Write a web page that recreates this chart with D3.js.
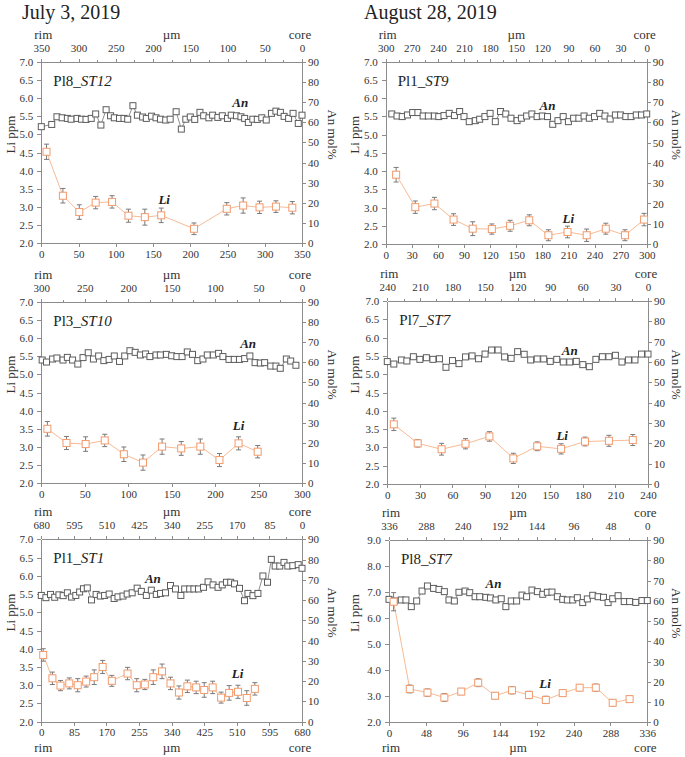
<!DOCTYPE html>
<meta charset="utf-8">
<style>
body { margin: 0; background: #fff; }
text { font-family: "Liberation Serif", "Times New Roman", serif; }
.axis path, .axis line { stroke: #8c8c8c; shape-rendering: crispEdges; }
.axis text { font-family: "Liberation Serif", serif; font-size: 11px; fill: #333; }
.lab { font-size: 13px; fill: #333; }
.title { font-size: 20px; fill: #222; }
.pname { font-size: 15px; fill: #222; }
.ser { font-size: 13px; font-weight: bold; font-style: italic; fill: #222; }
</style>
<body>
<script src="https://d3js.org/d3.v7.min.js"></script>
<script>

var titles = ["July 3, 2019", "August 28, 2019"];

// tick labels
var dist1 = [0, 50, 100, 150, 200, 250, 300, 350];
var dist2 = [0, 30, 60, 90, 120, 150, 180, 210, 240, 270, 300];
var dist3 = [0, 50, 100, 150, 200, 250, 300];
var dist4 = [0, 30, 60, 90, 120, 150, 180, 210, 240];
var dist5 = [0, 85, 170, 255, 340, 425, 510, 595, 680];
var dist6 = [0, 48, 96, 144, 192, 240, 288, 336];
var liTicks = [2.0, 2.5, 3.0, 3.5, 4.0, 4.5, 5.0, 5.5, 6.0, 6.5, 7.0];
var liTicks6 = [2, 3, 4, 5, 6, 7, 8, 9];
var anTicks = [0, 10, 20, 30, 40, 50, 60, 70, 80, 90];

// Li: [um, ppm, error]   An: [um, mol%]
var p1Li = [[7,4.52,0.21],[29,3.31,0.2],[51,2.86,0.2],[73,3.12,0.17],[95,3.14,0.17],[117,2.76,0.18],[139,2.72,0.22],[161,2.77,0.2],[205,2.40,0.16],[249,2.95,0.17],[271,3.04,0.21],[293,2.99,0.17],[315,3.01,0.16],[337,2.98,0.17]];
var p1An = [[0,57.8],[14,58.9],[21,62.7],[28,62.2],[35,61.9],[40,61.5],[48,61.9],[54,61.5],[60,61.4],[67,61.9],[73,64.1],[80,58.6],[87,66.2],[93,63.2],[98,62.2],[105,61.9],[111,61.9],[116,61.5],[123,68.2],[129,63.5],[136,62.6],[141,61.9],[148,63.0],[154,62.2],[160,61.5],[167,61.1],[173,61.5],[181,65.2],[188,56.6],[194,61.5],[200,62.6],[206,61.4],[213,64.9],[218,63.2],[225,62.2],[230,63.5],[237,62.4],[243,63.2],[250,61.9],[255,63.5],[262,63.2],[268,62.7],[273,61.9],[278,59.9],[284,61.5],[290,61.4],[296,62.2],[302,61.1],[309,64.4],[315,65.5],[321,64.9],[326,62.9],[332,61.9],[338,64.4],[345,59.4],[350,63.5]];

var p2Li = [[12,3.90,0.2],[34,3.01,0.17],[56,3.11,0.17],[78,2.67,0.16],[100,2.42,0.19],[122,2.41,0.14],[143,2.50,0.15],[165,2.65,0.15],[187,2.24,0.15],[209,2.33,0.16],[231,2.24,0.17],[253,2.42,0.15],[275,2.24,0.15],[297,2.67,0.17]];
var p2An = [[7,64.2],[13,63.2],[19,62.9],[25,63.7],[31,64.9],[37,64.9],[43,63.2],[49,63.2],[56,63.2],[61,62.9],[67,63.4],[73,64.5],[79,63.4],[85,65.4],[90,62.9],[96,60.4],[103,60.9],[108,61.6],[114,62.9],[120,64.5],[126,60.4],[132,65.4],[138,64.2],[144,62.1],[151,60.9],[156,62.1],[162,63.2],[168,64.2],[174,62.9],[180,63.2],[186,62.9],[192,59.1],[198,60.9],[204,62.9],[210,60.4],[216,62.1],[222,62.1],[228,63.2],[234,62.1],[240,62.9],[246,64.5],[252,63.2],[258,61.7],[264,63.7],[270,63.7],[276,62.9],[282,62.9],[288,63.7],[294,63.7],[300,64.2]];

var p3Li = [[7,3.50,0.2],[29,3.11,0.18],[51,3.08,0.2],[73,3.18,0.17],[95,2.80,0.2],[117,2.57,0.21],[139,3.01,0.21],[161,2.96,0.19],[183,3.01,0.21],[205,2.64,0.18],[227,3.10,0.18],[249,2.87,0.17]];
var p3An = [[1,61.1],[6,60.1],[13,61.6],[18,62.1],[25,61.1],[30,62.4],[36,61.1],[42,59.1],[48,62.3],[54,64.7],[60,61.6],[66,63.1],[72,60.8],[78,61.4],[84,63.1],[90,60.4],[96,63.1],[102,65.7],[108,64.9],[114,63.6],[120,64.1],[125,62.8],[132,63.6],[137,63.6],[144,63.9],[150,63.2],[156,62.8],[162,62.8],[168,65.1],[174,63.9],[180,60.8],[186,61.6],[191,63.6],[198,63.6],[204,64.4],[209,62.8],[216,61.4],[222,61.4],[228,61.4],[234,61.8],[240,63.1],[246,59.8],[252,59.6],[257,59.8],[264,58.1],[270,58.1],[275,57.0],[282,61.6],[287,60.6],[293,58.5]];

var p4Li = [[6,3.63,0.17],[28,3.11,0.1],[50,2.95,0.16],[72,3.10,0.14],[94,3.30,0.13],[116,2.70,0.14],[138,3.03,0.12],[160,2.96,0.14],[182,3.16,0.12],[204,3.18,0.15],[226,3.20,0.15]];
var p4An = [[0,60.2],[6,59.0],[13,61.0],[18,60.5],[24,62.6],[30,61.3],[36,62.1],[42,61.3],[48,61.6],[54,57.4],[60,60.7],[66,59.2],[72,62.5],[78,63.0],[84,61.6],[90,63.9],[96,65.9],[102,65.9],[108,62.5],[114,61.8],[120,65.1],[126,63.8],[132,61.0],[138,61.5],[144,61.5],[150,60.3],[156,61.3],[162,60.0],[168,60.0],[174,60.3],[180,58.7],[186,57.7],[192,61.3],[198,62.6],[204,62.6],[210,63.3],[216,60.0],[222,61.0],[228,61.0],[234,63.9],[240,63.9]];

var p5Li = [[5,3.83,0.17],[29,3.19,0.17],[50,2.99,0.14],[73,3.05,0.15],[95,3.00,0.18],[117,3.10,0.15],[138,3.22,0.2],[160,3.50,0.18],[184,3.12,0.15],[225,3.32,0.17],[249,3.00,0.18],[270,3.02,0.14],[292,3.22,0.2],[315,3.38,0.2],[337,3.05,0.17],[359,2.80,0.18],[381,2.97,0.17],[404,2.94,0.17],[425,2.87,0.2],[447,2.94,0.17],[469,2.66,0.15],[490,2.79,0.2],[513,2.82,0.18],[536,2.65,0.2],[557,2.90,0.17]];
var p5An = [[0,62.3],[12,61.2],[24,62.8],[35,61.4],[46,62.6],[57,62.2],[68,63.6],[79,61.5],[90,62.3],[100,64.0],[110,65.6],[120,66.0],[131,60.1],[143,62.8],[154,62.0],[165,62.3],[177,63.0],[190,60.8],[200,61.6],[213,62.0],[224,63.0],[237,63.6],[250,65.9],[261,64.3],[274,62.3],[287,64.9],[300,62.8],[311,63.3],[324,63.6],[337,67.2],[350,65.5],[364,62.3],[374,65.5],[387,65.5],[398,65.5],[410,65.5],[423,66.3],[435,69.0],[448,67.5],[461,66.3],[472,67.5],[483,68.8],[494,68.8],[504,68.0],[517,65.8],[530,59.7],[539,63.3],[552,62.2],[565,63.3],[578,71.9],[590,68.8],[600,80.1],[610,76.8],[622,76.8],[633,78.6],[643,76.8],[656,77.0],[670,77.5],[680,75.7]];

var p6Li = [[6,6.63,0.35],[27,3.28,0.15],[50,3.14,0.14],[72,2.95,0.15],[94,3.18,0.12],[116,3.52,0.15],[138,3.02,0.12],[160,3.23,0.14],[182,3.05,0.14],[204,2.86,0.14],[226,3.12,0.12],[248,3.33,0.12],[269,3.33,0.14],[291,2.75,0.12],[313,2.89,0.12]];
var p6An = [[0,60.7],[7,59.9],[16,60.4],[22,60.4],[29,57.1],[36,59.9],[43,64.8],[50,67.3],[58,66.1],[65,65.6],[72,64.5],[78,60.4],[85,59.9],[91,64.2],[99,64.8],[105,64.0],[112,62.0],[118,62.0],[126,61.7],[132,61.4],[139,60.4],[146,61.0],[152,57.1],[159,59.9],[166,59.9],[173,62.8],[179,62.0],[186,65.3],[193,64.5],[200,63.2],[206,64.2],[212,64.3],[219,62.0],[226,60.7],[232,60.4],[239,60.4],[245,61.5],[252,59.1],[258,60.9],[265,62.7],[272,62.0],[279,61.7],[285,59.1],[291,61.0],[298,62.5],[306,59.6],[313,59.6],[321,59.2],[329,60.1],[336,60.1]];

var width = 685, height = 757;

var svg = d3.select("body").append("svg")
    .attr("width", width)
    .attr("height", height);

svg.append("text").attr("class", "title").attr("x", 22).attr("y", 19).text(titles[0]);
svg.append("text").attr("class", "title").attr("x", 364).attr("y", 19).text(titles[1]);

var panels = [
  {name: "Pl8_", tag: "ST12", li: p1Li, an: p1An, ticks: dist1, yt: liTicks, liMax: 7,
   x0: 41.3, x1: 302, y0: 61.7, y1: 243.3, anLab: [267, 67.5], liLab: [165, 3.08], col: 0, foot: false},
  {name: "Pl1_", tag: "ST9", li: p2Li, an: p2An, ticks: dist2, yt: liTicks, liMax: 7,
   x0: 385.7, x1: 646.7, y0: 61.7, y1: 244, anLab: [186, 66.1], liLab: [210, 2.58], col: 1, foot: false},
  {name: "Pl3_", tag: "ST10", li: p3Li, an: p3An, ticks: dist3, yt: liTicks, liMax: 7,
   x0: 41.3, x1: 302, y0: 301.7, y1: 483.3, anLab: [238, 66.9], liLab: [227, 3.47], col: 0, foot: false},
  {name: "Pl7_", tag: "ST7", li: p4Li, an: p4An, ticks: dist4, yt: liTicks, liMax: 7,
   x0: 387.3, x1: 648, y0: 301, y1: 484, anLab: [168, 63.4], liLab: [161, 3.2], col: 1, foot: false},
  {name: "Pl1_", tag: "ST1", li: p5Li, an: p5An, ticks: dist5, yt: liTicks, liMax: 7,
   x0: 41.3, x1: 302, y0: 539.3, y1: 721.7, anLab: [291, 68.3], liLab: [512, 3.19], col: 0, foot: true},
  {name: "Pl8_", tag: "ST7", li: p6Li, an: p6An, ticks: dist6, yt: liTicks6, liMax: 9,
   x0: 389, x1: 647.3, y0: 540, y1: 722.3, anLab: [136, 66.1], liLab: [203, 3.33], col: 1, foot: true}
];

panels.forEach(drawPanel);

function drawPanel(p) {
  var g = svg.append("g");
  var max = p.ticks[p.ticks.length - 1];

  var x = d3.scaleLinear().domain([0, max]).range([p.x0, p.x1]);
  var xTop = d3.scaleLinear().domain([max, 0]).range([p.x0, p.x1]);
  var yLi = d3.scaleLinear().domain([2, p.liMax]).range([p.y1, p.y0]);
  var yAn = d3.scaleLinear().domain([0, 90]).range([p.y1, p.y0]);

  var minor = [];
  for (var i = 0; i < p.ticks.length - 1; i++) minor.push((p.ticks[i] + p.ticks[i + 1]) / 2);

  // axes (form the frame)
  g.append("g").attr("class", "axis")
      .attr("transform", "translate(0," + p.y1 + ")")
      .call(d3.axisBottom(x).tickValues(p.ticks).tickSize(4).tickSizeOuter(0).tickPadding(3));

  g.append("g").attr("class", "axis")
      .attr("transform", "translate(0," + p.y0 + ")")
      .call(d3.axisTop(xTop).tickValues(p.ticks).tickSize(3).tickSizeOuter(0).tickPadding(7));

  g.append("g").attr("class", "axis")
      .attr("transform", "translate(0," + p.y0 + ")")
      .call(d3.axisTop(xTop).tickValues(minor).tickSize(2).tickSizeOuter(0).tickFormat(""));

  g.append("g").attr("class", "axis")
      .attr("transform", "translate(" + p.x0 + ",0)")
      .call(d3.axisLeft(yLi).tickValues(p.yt).tickFormat(d3.format(".1f"))
        .tickSize(4).tickSizeOuter(0).tickPadding(4));

  g.append("g").attr("class", "axis")
      .attr("transform", "translate(" + p.x1 + ",0)")
      .call(d3.axisRight(yAn).tickValues(anTicks).tickSize(4).tickSizeOuter(0).tickPadding(2));

  // axis titles
  var cy = (p.y0 + p.y1) / 2 - 18;
  var lx = p.col === 0 ? 10 : 354;
  var rx = p.col === 0 ? 333 : 677;
  g.append("text").attr("class", "lab")
      .attr("transform", "translate(" + lx + "," + cy + ") rotate(-90)")
      .attr("text-anchor", "middle").attr("dy", "0.35em").text("Li ppm");
  g.append("text").attr("class", "lab")
      .attr("transform", "translate(" + rx + "," + cy + ") rotate(90)")
      .attr("text-anchor", "middle").attr("dy", "0.35em").text("An mol%");

  var rows = [p.y0 - 23];
  if (p.foot) rows.push(p.y1 + 30);
  rows.forEach(function(yy) {
    g.append("text").attr("class", "lab").attr("x", p.x0 + 2).attr("y", yy)
        .attr("text-anchor", "middle").text("rim");
    g.append("text").attr("class", "lab").attr("x", (p.x0 + p.x1) / 2).attr("y", yy)
        .attr("text-anchor", "middle").text("\u00b5m");
    g.append("text").attr("class", "lab").attr("x", p.x1 - 2).attr("y", yy)
        .attr("text-anchor", "middle").text("core");
  });

  // panel name
  var nm = g.append("text").attr("class", "pname").attr("x", p.x0 + 12).attr("y", p.y0 + 24);
  nm.append("tspan").text(p.name);
  nm.append("tspan").style("font-style", "italic").text(p.tag);

  // An series
  g.append("path").datum(p.an)
      .attr("fill", "none").attr("stroke", "#8e8e8e").attr("stroke-width", 1)
      .attr("d", d3.line().x(function(d) { return x(d[0]); }).y(function(d) { return yAn(d[1]); }));
  g.selectAll(".anpt").data(p.an).enter().append("rect")
      .attr("x", function(d) { return x(d[0]) - 3; })
      .attr("y", function(d) { return yAn(d[1]) - 3; })
      .attr("width", 6).attr("height", 6)
      .attr("fill", "#fff").attr("stroke", "#5c5c5c").attr("stroke-width", 1);

  // Li series
  g.append("path").datum(p.li)
      .attr("fill", "none").attr("stroke", "#f7bb94").attr("stroke-width", 1)
      .attr("d", d3.line().x(function(d) { return x(d[0]); }).y(function(d) { return yLi(d[1]); }));
  var eb = g.selectAll(".err").data(p.li).enter().append("g").attr("stroke", "#7a7a7a").attr("stroke-width", 1);
  eb.append("line")
      .attr("x1", function(d) { return x(d[0]); }).attr("x2", function(d) { return x(d[0]); })
      .attr("y1", function(d) { return yLi(d[1] - d[2]); }).attr("y2", function(d) { return yLi(d[1] + d[2]); });
  eb.append("line")
      .attr("x1", function(d) { return x(d[0]) - 2.5; }).attr("x2", function(d) { return x(d[0]) + 2.5; })
      .attr("y1", function(d) { return yLi(d[1] - d[2]); }).attr("y2", function(d) { return yLi(d[1] - d[2]); });
  eb.append("line")
      .attr("x1", function(d) { return x(d[0]) - 2.5; }).attr("x2", function(d) { return x(d[0]) + 2.5; })
      .attr("y1", function(d) { return yLi(d[1] + d[2]); }).attr("y2", function(d) { return yLi(d[1] + d[2]); });
  g.selectAll(".lipt").data(p.li).enter().append("rect")
      .attr("x", function(d) { return x(d[0]) - 3.5; })
      .attr("y", function(d) { return yLi(d[1]) - 3.5; })
      .attr("width", 7).attr("height", 7)
      .attr("fill", "#fff").attr("stroke", "#f29a6c").attr("stroke-width", 1);

  // series labels
  g.append("text").attr("class", "ser").attr("text-anchor", "middle")
      .attr("x", x(p.anLab[0])).attr("y", yAn(p.anLab[1])).text("An");
  g.append("text").attr("class", "ser").attr("text-anchor", "middle")
      .attr("x", x(p.liLab[0])).attr("y", yLi(p.liLab[1])).text("Li");
}

</script>
</body>
